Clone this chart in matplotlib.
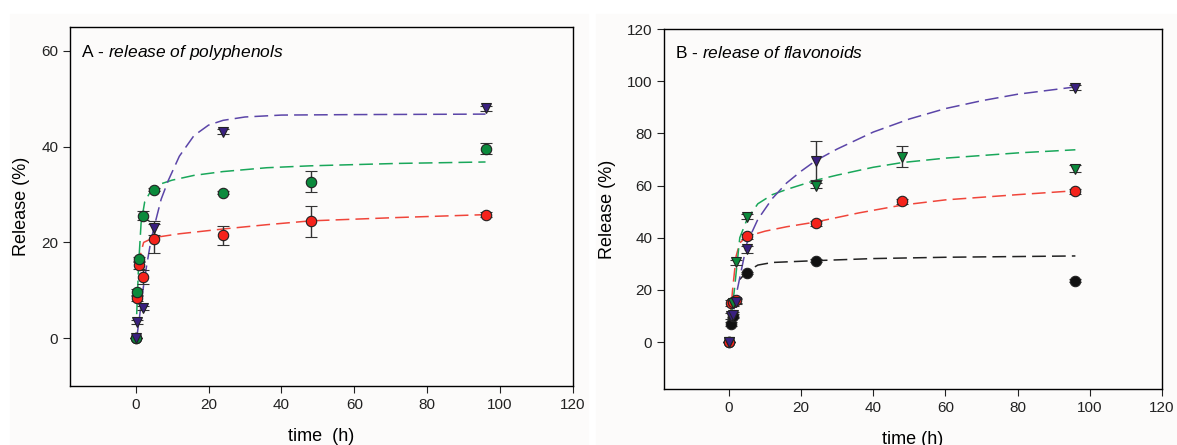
import matplotlib
matplotlib.use("Agg")
import matplotlib.pyplot as plt
from matplotlib.patches import Rectangle

plt.rcParams.update({"font.family": "Liberation Sans", "mathtext.fontset": "custom",
                     "mathtext.rm": "Liberation Sans", "mathtext.it": "Liberation Sans:italic",
                     "axes.linewidth": 1.0})
BG = "#fcfbfa"
RED, GREEN, PURPLE, BLACK = "#f5231b", "#0b8a3c", "#3a2080", "#111111"
RED_L, GREEN_L, PURPLE_L = "#f0453a", "#19a75a", "#5b45a8"

# ---- panel A: polyphenols ----
ta_red = [0, 0.5, 1, 2, 5, 24, 48, 96]
a_red = [0, 8.3, 15.3, 12.8, 20.8, 21.5, 24.4, 25.8]
a_red_err = [0, 0.6, 0.8, 1.5, 3.0, 2.0, 3.2, 0.5]
ta_green = [0, 0.5, 1, 2, 5, 24, 48, 96]
a_green = [0, 9.7, 16.5, 25.6, 31.0, 30.4, 32.7, 39.6]
a_green_err = [0, 0.6, 0.5, 1.0, 0.3, 0.3, 2.2, 1.2]
ta_purple = [0, 0.5, 2, 5, 24, 96]
a_purple = [0, 3.4, 6.3, 23.0, 43.1, 48.0]
a_purple_err = [0, 0.4, 0.5, 1.5, 0.5, 0.5]

fa_red_t = [0.8, 1.5, 2.2, 5, 12, 24, 36, 48, 72, 96]
fa_red = [15, 18, 20, 21, 21.8, 22.8, 23.7, 24.5, 25.2, 25.8]
fa_green_t = [0.3, 0.8, 1.5, 2.5, 4, 6, 10, 16, 24, 36, 48, 72, 96]
fa_green = [5, 15, 24, 28.5, 30.5, 32, 33, 34, 34.8, 35.6, 36, 36.5, 36.8]
fa_purple_t = [0.3, 1, 2, 3, 4, 5, 7, 9, 12, 16, 20, 24, 30, 40, 60, 96]
fa_purple = [0, 4, 10, 15, 19.5, 23, 29, 33, 38, 42.3, 44.5, 45.5, 46.2, 46.6, 46.7, 46.8]

# ---- panel B: flavonoids ----
tb_red = [0, 0.5, 1, 2, 5, 24, 48, 96]
b_red = [0, 15, 15.5, 16, 40.5, 45.5, 54, 57.8]
b_red_err = [0, 1, 1, 1, 1, 1, 1, 1]
tb_green = [0, 1, 2, 5, 24, 48, 96]
b_green = [0, 15, 30.5, 48, 60, 71, 66.5]
b_green_err = [0, 1, 1, 1, 1, 4, 1.5]
tb_purple = [0, 0.5, 1, 2, 5, 24, 96]
b_purple = [0, 10, 10.5, 15.5, 35.5, 69.5, 97.5]
b_purple_err = [0, 1, 1, 1, 1.5, 7.5, 1]
tb_black = [0, 0.5, 1, 5, 24, 96]
b_black = [0, 7, 10, 26.5, 31.2, 23.5]
b_black_err = [0, 0.8, 0.8, 0.5, 0.5, 0.5]

fb_red_t = [0.3, 1, 2, 3, 5, 10, 16, 24, 36, 48, 60, 80, 96]
fb_red = [8, 20, 33, 38, 40.5, 42.5, 44.2, 46, 49.5, 52.5, 54.5, 56.5, 58]
fb_green_t = [0.5, 1.5, 3, 5, 8, 12, 16, 24, 30, 40, 48, 60, 80, 96]
fb_green = [8, 20, 40, 47, 53, 56.5, 58.5, 62, 64, 67, 68.8, 70.5, 72.5, 73.7]
fb_purple_t = [0.5, 2, 5, 8, 12, 16, 20, 24, 30, 40, 50, 60, 70, 80, 96]
fb_purple = [5, 18, 38, 47, 55, 61, 65.5, 69.5, 74, 80.5, 85.5, 89.5, 92.5, 95, 97.8]
fb_black_t = [3, 5, 8, 12, 24, 40, 60, 96]
fb_black = [24, 27, 29.5, 30.5, 31.2, 32, 32.5, 33]

fig = plt.figure(figsize=(11.77, 4.45), dpi=100, facecolor="white")
fig.patches.append(Rectangle((10/1177, 0), 578/1177, 1-14/445, transform=fig.transFigure, color=BG, zorder=-10))
fig.patches.append(Rectangle((596/1177, 0), 581/1177, 1-14/445, transform=fig.transFigure, color=BG, zorder=-10))
axA = fig.add_axes([70/1177, 1-386/445, 503/1177, 359/445])
axB = fig.add_axes([664/1177, 1-389/445, 498/1177, 360/445])

def fit(ax, t, y, c):
    ax.plot(t, y, color=c, lw=1.1, dashes=(9, 4), zorder=2)

def pts(ax, t, y, e, c, m):
    ax.errorbar(t, y, yerr=e, fmt=m, color=c, mfc=c, mec="#222222", mew=0.8, ms=7.5,
                ecolor="#333333", elinewidth=1.0, capsize=4.5, capthick=1.0, zorder=3)

fit(axA, fa_red_t, fa_red, RED_L)
fit(axA, fa_green_t, fa_green, GREEN_L)
fit(axA, fa_purple_t, fa_purple, PURPLE_L)
pts(axA, ta_red, a_red, a_red_err, RED, "o")
pts(axA, ta_green, a_green, a_green_err, GREEN, "o")
pts(axA, ta_purple, a_purple, a_purple_err, PURPLE, "v")

fit(axB, fb_black_t, fb_black, "#222222")
fit(axB, fb_red_t, fb_red, RED_L)
fit(axB, fb_green_t, fb_green, GREEN_L)
fit(axB, fb_purple_t, fb_purple, PURPLE_L)
pts(axB, tb_black, b_black, b_black_err, BLACK, "o")
pts(axB, tb_red, b_red, b_red_err, RED, "o")
pts(axB, tb_green, b_green, b_green_err, GREEN, "v")
pts(axB, tb_purple, b_purple, b_purple_err, PURPLE, "v")

axA.set(xlim=(-18, 120), ylim=(-10, 65), yticks=[0, 20, 40, 60], xticks=range(0, 121, 20))
axB.set(xlim=(-18, 120), ylim=(-18, 120), yticks=range(0, 121, 20), xticks=range(0, 121, 20))
for ax, lab, title in [(axA, "time  (h)", r"A - $\it{release\ of\ polyphenols}$"),
                       (axB, "time (h)", r"B - $\it{release\ of\ flavonoids}$")]:
    ax.set_facecolor(BG)
    ax.tick_params(direction="out", length=5, labelsize=11, colors="#222222", top=False, right=False)
    ax.set_xlabel(lab, fontsize=13, labelpad=12)
    ax.set_ylabel("Release (%)", fontsize=13, labelpad=8)
    ax.text(0.022, 0.955, title, transform=ax.transAxes, fontsize=12.5, va="top")

fig.savefig("out.png", dpi=100, facecolor="white")
